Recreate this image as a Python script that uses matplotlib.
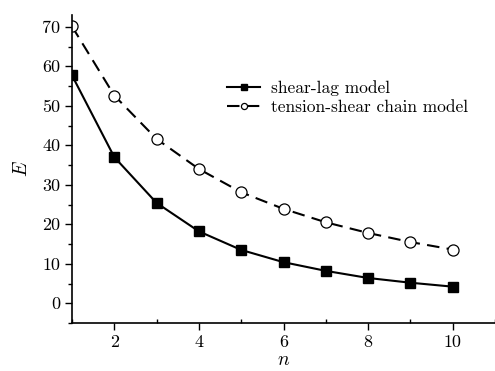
import matplotlib
matplotlib.use("Agg")
import matplotlib.pyplot as plt
from matplotlib.ticker import MultipleLocator

plt.rcParams["font.family"] = ["cmr10"]
plt.rcParams["mathtext.fontset"] = "cm"
plt.rcParams["axes.formatter.use_mathtext"] = True

# values
n = [1, 2, 3, 4, 5, 6, 7, 8, 9, 10]
shear_lag = [57.7, 37.0, 25.4, 18.2, 13.5, 10.4, 8.2, 6.4, 5.2, 4.2]
tension_shear = [70.1, 52.6, 41.6, 34.0, 28.1, 23.9, 20.5, 17.8, 15.5, 13.6]
labels = ["shear-lag model", "tension-shear chain model"]

fig = plt.figure(figsize=(4.95, 3.71), dpi=100)
ax = fig.add_axes([0.1455, 0.1294, 0.8545, 0.8302])

ax.plot(n, shear_lag, "-", color="black", lw=1.5, marker="s", ms=7.5,
        mfc="black", mec="black", label=labels[0])
ax.plot(n, tension_shear, color="black", lw=1.5, ls=(0, (6, 3.5)), marker="o",
        ms=8, mfc="white", mec="black", mew=0.9, label=labels[1])

ax.set_xlim(1, 11)
ax.set_ylim(-5, 73)
ax.xaxis.set_minor_locator(MultipleLocator(1))
ax.yaxis.set_minor_locator(MultipleLocator(5))
ax.set_xticks([2, 4, 6, 8, 10])
ax.set_xticklabels(["2", "4", "6", "8", "10"])
ax.set_yticks([0, 10, 20, 30, 40, 50, 60, 70])
ax.set_yticklabels(["0", "10", "20", "30", "40", "50", "60", "70"])

for s in ["top", "right"]:
    ax.spines[s].set_visible(False)
ax.spines["left"].set_linewidth(1.2)
ax.spines["bottom"].set_linewidth(1.2)

ax.tick_params(axis="both", which="major", direction="out", length=5, width=1,
               labelsize=13)
ax.tick_params(axis="x", which="minor", direction="in", length=3, width=1)
ax.tick_params(axis="y", which="minor", direction="out", length=3, width=1)

ax.set_xlabel("$n$", fontsize=14, labelpad=1)
ax.set_ylabel("$E$", fontsize=14, labelpad=8)

leg = ax.legend(loc="upper left", bbox_to_anchor=(0.33, 0.84), frameon=False,
                fontsize=12.5, handlelength=1.9, markerscale=0.55,
                handletextpad=0.6, labelspacing=0.25)

fig.savefig("out.png", dpi=100)
